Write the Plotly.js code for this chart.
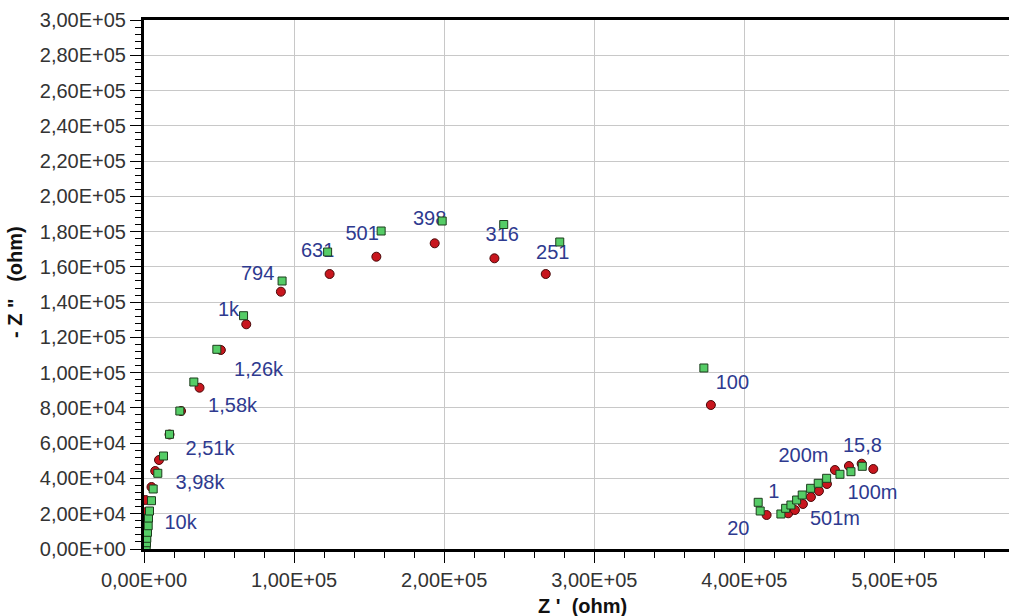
<!DOCTYPE html>
<html>
<head>
<meta charset="utf-8">
<script src="https://cdn.plot.ly/plotly-3.0.1.min.js"></script>
<style>html,body{margin:0;padding:0;background:#fff;}#chart{width:1009px;height:616px;}</style>
</head>
<body>
<div id="chart"></div>
<script>
// Green squares: Z' (ohm), -Z'' (ohm)
const greenZre = [1470,1670,1870,2330,2800,3000,3670,5000,6130,9200,13000,17000,23870,33200,48530,66330,92000,122330,158000,198670,239670,277000,373000,409200,410530,424330,427470,431000,434800,438530,444130,449200,454800,463670,471000,478530];
const greenZim = [1300,3570,6070,9470,13210,17580,21550,27390,34030,42930,52740,65050,78260,94700,113250,132300,151980,168430,180340,186010,184020,174100,102650,26480,21550,19850,23080,24950,27790,30620,34420,37260,40090,42360,43840,46900];
// Red circles
const redZre = [1000,1200,1330,1330,1000,5000,7470,10000,17000,24670,37000,51200,68130,91200,123670,154800,193670,233470,267670,377670,414800,429200,433670,439000,444330,449670,455000,460330,469670,478130,485870];
const redZim = [1700,6240,13040,20980,27790,35160,44230,50470,64930,78260,91470,112850,127430,145920,155950,165760,173360,164860,155950,81660,19280,20250,22120,25520,29490,32890,36860,44800,47070,48370,45370];
// Frequency labels
const freqLabels = ["10k","3,98k","2,51k","1,58k","1,26k","1k","794","631","501","398","316","251","100","200m","15,8","1","100m","501m","20"];
const freqLabelZre = [24330,37330,44000,59000,76330,56330,75670,115670,145330,190330,238670,272330,392000,439330,478670,419670,485330,460330,396000];
const freqLabelZim = [14460,37140,56140,80810,100940,135250,155390,168710,178350,186570,177780,167580,93570,52460,58130,32040,31470,16450,10770];
// Ticks
const xTickVals = [0,100000,200000,300000,400000,500000];
const xTickText = ["0,00E+00","1,00E+05","2,00E+05","3,00E+05","4,00E+05","5,00E+05"];
const yTickVals = [0,20000,40000,60000,80000,100000,120000,140000,160000,180000,200000,220000,240000,260000,280000,300000];
const yTickText = ["0,00E+00","2,00E+04","4,00E+04","6,00E+04","8,00E+04","1,00E+05","1,20E+05","1,40E+05","1,60E+05","1,80E+05","2,00E+05","2,20E+05","2,40E+05","2,60E+05","2,80E+05","3,00E+05"];
const xTitle = "Z\u00A0'\u00A0\u00A0(ohm)";
const yTitle = "-\u00A0Z\u00A0\"\u00A0\u00A0\u00A0(ohm)";

const tickFont = {family: "Liberation Sans, Arial, sans-serif", size: 20, color: "#333333"};
const titleFont = {family: "Liberation Sans, Arial, sans-serif", size: 20, color: "#111111", weight: "bold"};

const traces = [
  {x: freqLabelZre, y: freqLabelZim, text: freqLabels, mode: "text", type: "scatter",
   textposition: "middle center", textfont: {family: "Liberation Sans, Arial, sans-serif", size: 20, color: "#2e3a8f"},
   hoverinfo: "skip", showlegend: false, cliponaxis: false},
  {x: redZre, y: redZim, mode: "markers", type: "scatter", showlegend: false,
   marker: {symbol: "circle", size: 9, color: "#c8161e", line: {color: "#4a0a0a", width: 1}}},
  {x: greenZre, y: greenZim, mode: "markers", type: "scatter", showlegend: false,
   marker: {symbol: "square", size: 8, color: "#55cc66", line: {color: "#1d3d1d", width: 1}}}
];

const layout = {
  width: 1009, height: 616,
  margin: {l: 144, r: 0, t: 20, b: 67},
  paper_bgcolor: "#ffffff", plot_bgcolor: "#ffffff",
  showlegend: false,
  xaxis: {
    range: [0, 576300], tickmode: "array", tickvals: xTickVals, ticktext: xTickText,
    tickfont: tickFont, ticks: "outside", ticklen: 11, tickwidth: 1, tickcolor: "#000",
    showline: true, linecolor: "#000", linewidth: 3, mirror: true,
    showgrid: true, gridcolor: "#c8c8c8", gridwidth: 1, zeroline: false,
    minor: {tickmode: "linear", tick0: 0, dtick: 20000, ticks: "outside", ticklen: 6, tickcolor: "#000", tickwidth: 1, showgrid: false},
    fixedrange: true
  },
  yaxis: {
    range: [0, 300000], tickmode: "array", tickvals: yTickVals, ticktext: yTickText,
    tickfont: tickFont, ticks: "outside", ticklen: 11, tickwidth: 1, tickcolor: "#000",
    showline: true, linecolor: "#000", linewidth: 3, mirror: false,
    showgrid: true, gridcolor: "#c8c8c8", gridwidth: 1, zeroline: false,
    minor: {tickmode: "linear", tick0: 0, dtick: 4000, ticks: "outside", ticklen: 6, tickcolor: "#000", tickwidth: 1, showgrid: false},
    fixedrange: true
  },
  annotations: [
    {text: xTitle, xref: "paper", yref: "paper", x: (582-144)/865, y: -(606-549)/529, xanchor: "center", yanchor: "middle",
     showarrow: false, font: titleFont},
    {text: yTitle, xref: "paper", yref: "paper", x: -(144-15)/865, y: (549-282)/529, xanchor: "center", yanchor: "middle",
     textangle: -90, showarrow: false, font: titleFont}
  ]
};

Plotly.newPlot("chart", traces, layout, {displayModeBar: false, staticPlot: true});
</script>
</body>
</html>
